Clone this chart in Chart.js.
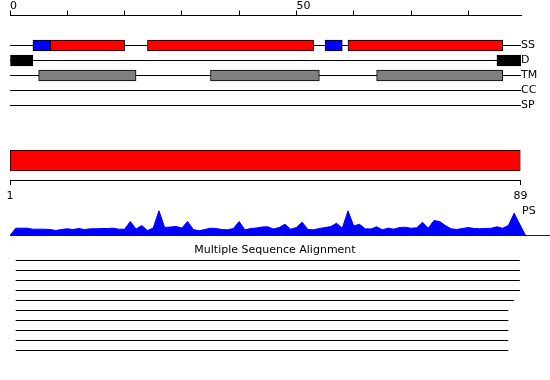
<!DOCTYPE html>
<html>
<head>
<meta charset="utf-8">
<script src="https://cdn.jsdelivr.net/npm/chart.js@4.4.1/dist/chart.umd.min.js"></script>
<style>
  html, body { margin: 0; padding: 0; background: #fff; }
  #wrap { position: relative; width: 550px; height: 380px; overflow: hidden; }
  #wrap canvas { position: absolute; left: 0; top: 0; }
  .lbl { position: absolute; font: 11px "DejaVu Sans"; line-height: 13px; color: #000; }
</style>
</head>
<body>
<div id="wrap">
  <canvas id="features" width="550" height="380"></canvas>
  <canvas id="domain" width="550" height="380"></canvas>
  <canvas id="psPlot" width="550" height="380"></canvas>
  <canvas id="msa" width="550" height="380"></canvas>
  <div class="lbl" style="left:522px;top:204px">PS</div>
</div>
<script>
// feature tracks (residue ranges)
const TRACKS = ['SS', 'D', 'TM', 'CC', 'SP'];
const HELIX = [[7, 20], [24, 53], [59, 86]];
const STRAND = [[4, 7], [55, 58]];
const DISORDER = [[0, 4], [85, 89.2]];
const TRANSMEM = [[5, 22], [35, 54], [64, 86]];
const TOP_TICKS = [0, 10, 20, 30, 40, 50, 60, 70, 80];
const TOP_LABELS = [0, 50];

// domain bar and its sequence ends
const DOMAIN = [1, 89];
const SEQ_ENDS = [1, 89];

// PS profile, one value per residue
const PS_SCORES = [
  0, 7.3, 7.3, 7.3, 6.3, 6.3, 6.3, 6, 5, 6,
  6.7, 6, 7, 6, 6.7, 6.7, 7, 7, 7.3, 6.3,
  6.3, 14, 6.5, 10, 5, 7.5, 24.7, 8, 8.5, 9,
  7.5, 14, 6, 4.7, 6, 7.3, 7, 6, 5.7, 7,
  14, 5.7, 7, 7.5, 8.5, 8.7, 6.5, 8, 11.3, 6.3,
  8, 13.3, 6, 5.7, 7, 8, 9, 12.3, 7.3, 24.7,
  9.5, 11.3, 6.7, 6.5, 8.7, 5.7, 7.3, 6.3, 8, 8.3,
  7.3, 7.7, 13.3, 7.3, 15, 14, 10, 6.7, 6, 7,
  8, 7, 6.7, 7, 7.3, 8.7, 7.3, 10, 22.3, 11,
  0
];

// alignment coverage
const MSA_START = [1, 1, 1, 1, 1, 1, 1, 1, 1, 1];
const MSA_END = [89, 89, 89, 89, 88, 87, 87, 87, 87, 87];

Chart.defaults.font.family = '"DejaVu Sans"';
Chart.defaults.font.size = 11;
Chart.defaults.color = '#000';
Chart.defaults.animation = false;
Chart.defaults.responsive = false;
Chart.defaults.plugins.legend.display = false;
Chart.defaults.plugins.tooltip.enabled = false;

function rangesOn(track, ranges) {
    const row = TRACKS.indexOf(track);
    return ranges.map(r => ({ x: r, y: row }));
}

// Feature tracks
new Chart(document.getElementById('features'), {
    type: 'bar',
    data: {
        datasets: [
            { data: rangesOn('SS', STRAND), backgroundColor: '#0000ff' },
            { data: rangesOn('SS', HELIX), backgroundColor: '#ff0000' },
            { data: rangesOn('D', DISORDER), backgroundColor: '#000000' },
            { data: rangesOn('TM', TRANSMEM), backgroundColor: '#808080' }
        ]
    },
    options: {
        indexAxis: 'y',
        layout: { padding: { left: 10, top: 0, right: 0, bottom: 274.5 } },
        datasets: {
            bar: { grouped: false, barThickness: 11, borderWidth: 1, borderColor: '#000', borderSkipped: false }
        },
        scales: {
            x: {
                type: 'linear', position: 'top', min: 0, max: 89.2,
                afterFit: s => { s.height = 15.5; },
                afterBuildTicks: s => { s.ticks = TOP_TICKS.map(v => ({ value: v })); },
                ticks: {
                    align: 'start', padding: -1.5, autoSkip: false, maxRotation: 0,
                    font: { lineHeight: 1 },
                    callback: v => TOP_LABELS.includes(v) ? String(v) : ''
                },
                grid: { drawOnChartArea: false, tickLength: 5, color: '#000' },
                border: { color: '#000' }
            },
            y: {
                type: 'linear', position: 'right', reverse: true, offset: false,
                min: -2, max: TRACKS.length - 1,
                afterFit: s => { s.width = 29; },
                afterBuildTicks: s => { s.ticks = TRACKS.map((t, i) => ({ value: i })); },
                ticks: { padding: 0, autoSkip: false, callback: v => TRACKS[v] },
                grid: { offset: false, drawTicks: false, color: '#000' },
                border: { display: false }
            }
        }
    }
});

// Domain bar with sequence axis
new Chart(document.getElementById('domain'), {
    type: 'bar',
    data: { datasets: [{ data: [{ x: DOMAIN, y: 0 }], backgroundColor: '#ff0000' }] },
    options: {
        indexAxis: 'y',
        layout: { padding: { left: 10, right: 29.5, top: 141, bottom: 180 } },
        datasets: {
            bar: { barThickness: 21, borderWidth: 1, borderColor: '#000', borderSkipped: false }
        },
        scales: {
            x: {
                type: 'linear', min: SEQ_ENDS[0], max: SEQ_ENDS[1],
                afterFit: s => { s.height = 20; },
                afterBuildTicks: s => { s.ticks = SEQ_ENDS.map(v => ({ value: v })); },
                ticks: { padding: 4.5, autoSkip: false, maxRotation: 0 },
                grid: { drawOnChartArea: false, tickLength: 5, color: '#000' },
                border: { color: '#000' }
            },
            y: { type: 'linear', display: false, offset: false, min: -1, max: 1 }
        }
    }
});

// PS profile
new Chart(document.getElementById('psPlot'), {
    type: 'line',
    data: {
        datasets: [{
            data: PS_SCORES.map((v, i) => ({ x: i, y: v })),
            borderColor: '#0000ff', backgroundColor: '#0000ff', borderWidth: 1,
            fill: 'origin', pointRadius: 0, tension: 0
        }]
    },
    options: {
        layout: { padding: { left: 10, right: 0, top: 205.5, bottom: 144.5 } },
        scales: {
            x: {
                type: 'linear', min: 0, max: 94.26,
                afterFit: s => { s.height = 0; },
                ticks: { display: false },
                grid: { display: false },
                border: { color: '#0000ff' }
            },
            y: { type: 'linear', display: false, min: 0, max: 30 }
        }
    }
});

// Multiple sequence alignment
new Chart(document.getElementById('msa'), {
    type: 'line',
    data: {
        datasets: MSA_START.map((s, i) => ({
            data: [{ x: s, y: i }, { x: MSA_END[i], y: i }],
            borderColor: '#000', borderWidth: 1, pointRadius: 0
        }))
    },
    options: {
        layout: { padding: { left: 10, right: 10, top: 244.8, bottom: 19.5 } },
        plugins: {
            title: {
                display: true, text: 'Multiple Sequence Alignment', color: '#000',
                font: { size: 11, weight: 'normal', lineHeight: 1 }, padding: 0
            }
        },
        scales: {
            x: { type: 'linear', display: false, min: 0, max: 92.52 },
            y: { type: 'linear', display: false, min: -0.47, max: 10, reverse: true }
        }
    }
});
</script>
</body>
</html>
